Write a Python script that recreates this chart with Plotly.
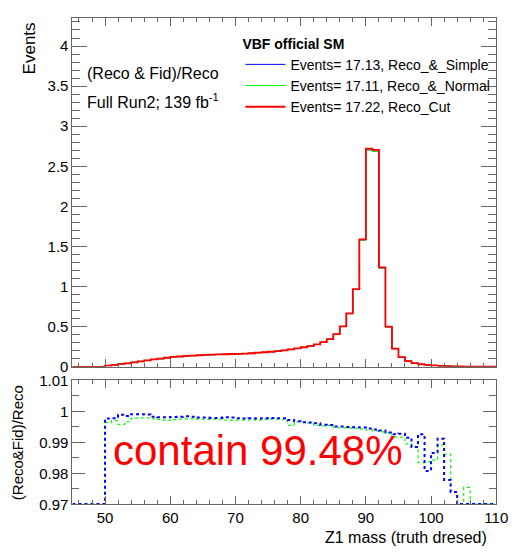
import plotly.graph_objects as go
import numpy as np

## DATA ##
# 1 GeV bins from 45 to 110 (lower edges)
bin_lo = list(range(45, 110))
bin_hi_last = 110

reco_cut = [
    0, 0, 0, 0, 0,
    0.016, 0.024, 0.036, 0.044, 0.056, 0.068, 0.080, 0.092, 0.101, 0.113,
    0.124, 0.129, 0.136, 0.140, 0.144, 0.148, 0.151, 0.154, 0.157, 0.160,
    0.162, 0.165, 0.169, 0.176, 0.182, 0.188, 0.196, 0.206, 0.218, 0.229,
    0.244, 0.259, 0.279, 0.308, 0.345, 0.408, 0.505, 0.667, 0.970, 1.590,
    2.720, 2.705, 1.240, 0.500, 0.228, 0.120, 0.072, 0.047, 0.032, 0.024,
    0.017, 0.012, 0.009, 0.006, 0.004, 0.003, 0.002, 0.002, 0.001, 0.001,
]

# (Reco & Fid)/Reco per bin
ratio_simple = [
    0, 0, 0, 0, 0,
    0.9977, 0.9978, 0.9989, 0.9985, 0.9991, 0.9991, 0.9990, 0.9983, 0.9981, 0.9981,
    0.9982, 0.9983, 0.9984, 0.9983, 0.9980, 0.9980, 0.9979, 0.9979, 0.9981, 0.9980,
    0.9978, 0.9977, 0.9978, 0.9977, 0.9978, 0.9979, 0.9978, 0.9978, 0.9972, 0.9968,
    0.9965, 0.9964, 0.9962, 0.9957, 0.9956, 0.9951, 0.9951, 0.9950, 0.9949, 0.9948,
    0.9945, 0.9942, 0.9938, 0.9932, 0.9926, 0.9928, 0.9915, 0.9885, 0.9926, 0.9808,
    0.9866, 0.9912, 0.9779, 0.9740, 0, 0, 0, 0, 0, 0,
]
ratio_normal = [
    0, 0, 0, 0, 0,
    0.9964, 0.9970, 0.9958, 0.9967, 0.9978, 0.9979, 0.9979, 0.9976, 0.9974, 0.9971,
    0.9974, 0.9975, 0.9976, 0.9977, 0.9975, 0.9974, 0.9975, 0.9973, 0.9972, 0.9971,
    0.9972, 0.9972, 0.9973, 0.9972, 0.9974, 0.9975, 0.9975, 0.9973, 0.9955, 0.9966,
    0.9965, 0.9962, 0.9955, 0.9953, 0.9955, 0.9948, 0.9947, 0.9946, 0.9945, 0.9943,
    0.9940, 0.9937, 0.9934, 0.9931, 0.9917, 0.9917, 0.9895, 0.9885, 0.9835, 0.9838,
    0.9843, 0.9892, 0.9862, 0.9740, 0, 0.9755, 0, 0, 0, 0,
]

names = {
    'simple': 'Events= 17.13, Reco_&_Simple',
    'normal': 'Events= 17.11, Reco_&_Normal',
    'cut': 'Events= 17.22, Reco_Cut',
}
colors = {'simple': '#0000ff', 'normal': '#00ff00', 'cut': '#ff0000'}

## HELPERS ##
# page body has an 8px margin, so positions are given in window pixels
OFF = 8
W, H = 520 - OFF, 557 - OFF
def px_x(p): return (p - OFF) / W
def px_y(p): return 1 - (p - OFF) / H

def step(vals):
    x = bin_lo + [bin_hi_last]
    y = list(vals) + [vals[-1]]
    return x, y

FONT = 'Liberation Sans, Arial, sans-serif'
AX = '#666666'

fig = go.Figure()

red = np.array(reco_cut)
hists = {
    'simple': red * np.array(ratio_simple),
    'normal': red * np.array(ratio_normal),
    'cut': red,
}
widths = {'simple': 1, 'normal': 1, 'cut': 1.8}
for key in ('simple', 'normal', 'cut'):
    x, y = step(hists[key])
    fig.add_trace(go.Scatter(
        x=x, y=y, mode='lines', line_shape='hv',
        line=dict(color=colors[key], width=widths[key]),
        name=names[key], xaxis='x', yaxis='y',
    ))

# ratio panel (values below the range are drawn on the frame, ROOT-like)
for key, vals, w in (('normal', ratio_normal, 1.2), ('simple', ratio_simple, 2)):
    x, y = step(np.maximum(np.array(vals), 0.9701))
    fig.add_trace(go.Scatter(
        x=x, y=y, mode='lines', line_shape='hv',
        line=dict(color=colors[key], width=w, dash='dot'),
        showlegend=False, xaxis='x2', yaxis='y2',
    ))

common = dict(
    showline=True, linecolor=AX, linewidth=1, mirror='ticks',
    ticks='inside', tickcolor=AX, tickwidth=1,
    showgrid=False, zeroline=False,
    tickfont=dict(family=FONT, size=15, color='black'),
)
xdom = [px_x(74), px_x(508)]

fig.update_layout(
    width=W, height=H,
    margin=dict(l=0, r=0, t=0, b=0),
    plot_bgcolor='white', paper_bgcolor='white',
    font=dict(family=FONT, color='black'),
    xaxis=dict(domain=xdom, range=[45, 110], anchor='y', showticklabels=False,
               dtick=10, tick0=0, ticklen=8,
               minor=dict(dtick=2, ticklen=4, ticks='inside', tickcolor=AX), **common),
    yaxis=dict(domain=[px_y(369), px_y(9)], range=[0, 4.35], anchor='x',
               dtick=0.5, tick0=0, ticklen=15,
               minor=dict(dtick=0.1, ticklen=8, ticks='inside', tickcolor=AX), **common),
    xaxis2=dict(domain=xdom, range=[45, 110], anchor='y2', matches='x',
                dtick=10, tick0=0, ticklen=8,
                minor=dict(dtick=2, ticklen=4, ticks='inside', tickcolor=AX), **common),
    yaxis2=dict(domain=[px_y(511), px_y(383)], range=[0.97, 1.01], anchor='x2',
                dtick=0.01, tick0=0.97, ticklen=13,
                minor=dict(dtick=0.005, ticklen=7, ticks='inside', tickcolor=AX), **common),
    legend=dict(
        x=px_x(246), y=px_y(22), xanchor='left', yanchor='top',
        bgcolor='rgba(0,0,0,0)', borderwidth=0,
        title=dict(text='<b>VBF official SM</b>', font=dict(family=FONT, size=14)),
        font=dict(family=FONT, size=14), tracegroupgap=0, itemwidth=40,
    ),
)

annots = [
    dict(text='Events', x=px_x(30), y=px_y(11), xanchor='center', yanchor='top',
         textangle=-90, font=dict(size=17)),
    dict(text='(Reco&Fid)/Reco', x=px_x(18), y=px_y(447), xanchor='center', yanchor='middle',
         textangle=-90, font=dict(size=15)),
    dict(text='Z1 mass (truth dresed)', x=px_x(501), y=px_y(545), xanchor='right', yanchor='middle',
         font=dict(size=16)),
    dict(text='(Reco & Fid)/Reco', x=px_x(87), y=px_y(66), xanchor='left', yanchor='middle',
         font=dict(size=16)),
    dict(text='Full Run2; 139 fb<sup>-1</sup>', x=px_x(87), y=px_y(95), xanchor='left', yanchor='middle',
         font=dict(size=16)),
    dict(text='contain 99.48%', x=px_x(264), y=px_y(455), xanchor='center', yanchor='middle',
         font=dict(size=42, color='#ff0000')),
]
for a in annots:
    fig.add_annotation(xref='paper', yref='paper', showarrow=False, **a)

fig.write_html("out.html")
